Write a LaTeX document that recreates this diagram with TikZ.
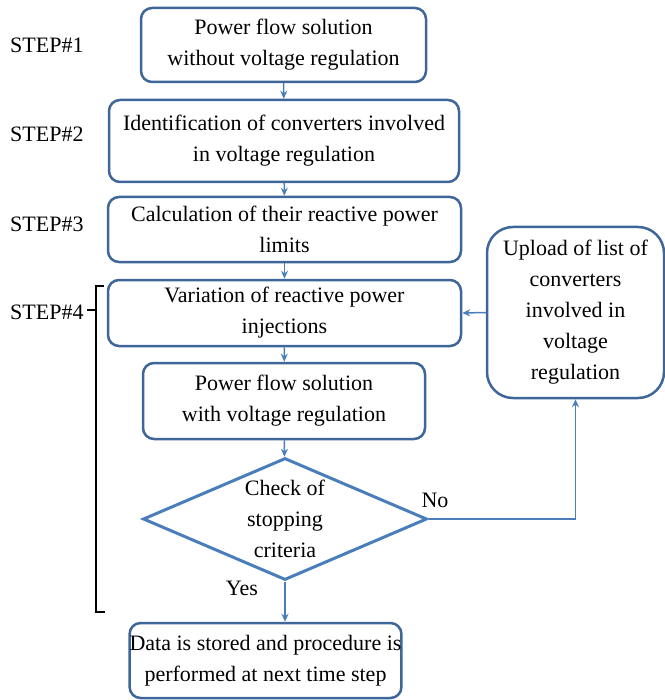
\documentclass[tikz,border=0pt]{standalone}
\usepackage{fontspec}
\setmainfont{Liberation Serif}
\usepackage{tikz}
\usetikzlibrary{
  shapes.geometric,
  arrows.meta}

\definecolor{boxblue}{RGB}{62,102,153}
\definecolor{lineblue}{RGB}{74,126,187}

\tikzset{
  stepbox/.style={draw=boxblue, line width=2.5pt, rounded corners=11pt,
    align=center, inner sep=0pt, font=\fontsize{22}{31}\selectfont},
  checkbox/.style={draw=lineblue, line width=3pt, shape=diamond, aspect=2.33,
    align=center, inner sep=0pt, minimum width=284pt, minimum height=122pt,
    font=\fontsize{22}{31}\selectfont},
  steplabel/.style={font=\fontsize{22}{26}\selectfont, inner sep=0pt},
  flow/.style={draw=lineblue, line width=1.5pt, -{Stealth[length=8pt,width=7pt]}}
}

\begin{document}
\begin{tikzpicture}[x=1pt, y=-1pt]
\useasboundingbox (0,0) rectangle (664,700);

\node[stepbox, minimum width=285pt, minimum height=74pt] (pfnoreg) at (283.5,45)
  {Power flow solution\\without voltage regulation};
\node[stepbox, minimum width=350pt, minimum height=82pt] (identify) at (284,141)
  {Identification of converters involved\\in voltage regulation};
\node[stepbox, minimum width=353pt, minimum height=65pt] (limits) at (284.5,229.5)
  {Calculation of their reactive power\\limits};
\node[stepbox, minimum width=353pt, minimum height=66pt] (variation) at (284.5,313)
  {Variation of reactive power\\injections};
\node[stepbox, minimum width=282pt, minimum height=76pt] (pfreg) at (284,401)
  {Power flow solution\\with voltage regulation};
\node[checkbox] (check) at (285,519)
  {Check of\\stopping\\criteria};
\node[stepbox, minimum width=271pt, minimum height=75pt] (store) at (265.5,660.5)
  {Data is stored and procedure is\\performed at next time step};
\node[stepbox, rounded corners=26pt, minimum width=177pt, minimum height=171pt] (upload) at (575.5,312.5)
  {Upload of list of\\converters\\involved in\\voltage\\regulation};

\node[steplabel, anchor=west] (s1) at (10,45) {STEP\#1};
\node[steplabel, anchor=west] (s2) at (10,134) {STEP\#2};
\node[steplabel, anchor=west] (s3) at (10,224) {STEP\#3};
\node[steplabel, anchor=west] (s4) at (10,312) {STEP\#4};

\node[steplabel] (no) at (435,500) {No};
\node[steplabel] (yes) at (242,588) {Yes};

\draw[flow] (pfnoreg) -- (identify);
\draw[flow] (identify) -- (limits);
\draw[flow] (limits) -- (variation);
\draw[flow] (variation) -- (pfreg);
\draw[flow] (pfreg) -- (check);
\draw[flow] (check.south) -- (check.south |- store.north);
\draw[flow] (check.east) -| (upload.south);
\draw[flow] (upload.west) -- (variation.east);

\draw[line width=1.5pt] (104,286) -- (96,286) -- (96,612) -- (105,612)
  (87,310) -- (96,310);
\end{tikzpicture}
\end{document}
